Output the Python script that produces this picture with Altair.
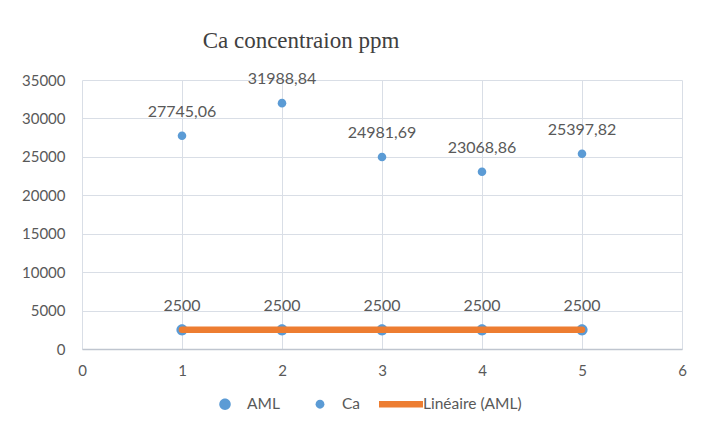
import altair as alt
import pandas as pd

x_vals = [1, 2, 3, 4, 5]
aml_vals = [2500, 2500, 2500, 2500, 2500]
ca_vals = [27745.06, 31988.84, 24981.69, 23068.86, 25397.82]
series_names = ["AML", "Ca", "Linéaire (AML)"]
x_ticks = [0, 1, 2, 3, 4, 5, 6]
y_ticks = [0, 5000, 10000, 15000, 20000, 25000, 30000, 35000]

df = pd.DataFrame({
    "x": x_vals * 2,
    "y": aml_vals + ca_vals,
    "series": ["AML"] * len(x_vals) + ["Ca"] * len(x_vals),
})

blue = "#5B9BD5"
orange = "#ED7D31"
grey = "#595959"


def circle_path(r):
    return f"M{r},0A{r},{r} 0 1,1 {-r},0A{r},{r} 0 1,1 {r},0Z"


line_path = "M-1,-0.15L1,-0.15L1,0.15L-1,0.15Z"

legend = alt.Legend(title=None, orient="none", legendX=121, legendY=302,
                    direction="horizontal", labelFont="Lato", labelFontSize=15.5,
                    labelColor=grey, columnPadding=18, labelOffset=0,
                    symbolStrokeWidth=0, symbolSize=1936, symbolOpacity=1)

color = alt.Color("series:N", scale=alt.Scale(domain=series_names, range=[blue, blue, orange]), legend=legend)
shape = alt.Shape("series:N", scale=alt.Scale(domain=series_names,
                  range=[circle_path(0.26), circle_path(0.2), line_path]), legend=legend)

xenc = alt.X("x:Q", scale=alt.Scale(domain=[0, 6], nice=False),
             axis=alt.Axis(values=x_ticks, title=None, format="d", labelPadding=14, domain=True,
                           domainColor="#BFC5CF", domainWidth=1.3, labelOverlap=False,
                           labelFlush=False))
yenc = alt.Y("y:Q", scale=alt.Scale(domain=[0, 35000], nice=False),
             axis=alt.Axis(values=y_ticks, title=None, format="d", labelPadding=17,
                           domain=False, labelOverlap=False))

base = alt.Chart(df)

points = base.mark_point(filled=True, opacity=1, size=1849).encode(
    x=xenc, y=yenc, color=color, shape=shape)

trend = base.transform_filter("datum.series == 'AML'").transform_regression(
    "x", "y").transform_calculate(series="'Linéaire (AML)'").mark_line(
    strokeWidth=6.5, strokeCap="round").encode(x=xenc, y=yenc, color=color)

lab_expr = "datum.y % 1 == 0 ? format(datum.y, 'd') : replace(format(datum.y, '.2f'), '.', ',')"

labels = base.transform_calculate(lab=lab_expr).mark_text(
    dy=-24, font="Lato", fontSize=16, color=grey).encode(
    x=xenc, y=yenc, text="lab:N")

chart = alt.layer(points, trend, labels).properties(
    width=600, height=269,
    title=alt.TitleParams("Ca concentraion ppm", font="Liberation Serif", fontSize=23,
                          color="#404040", fontWeight="normal", anchor="middle",
                          dx=-81, offset=18),
    autosize="none",
    padding={"left": 74, "top": 72, "right": 15, "bottom": 66},
).configure_view(stroke=None).configure_axis(
    gridColor="#D9DEE6", ticks=False, labelFont="Lato", labelFontSize=15,
    labelColor=grey,
)

chart.save("out.html", embed_options={"renderer": "svg", "actions": False})
